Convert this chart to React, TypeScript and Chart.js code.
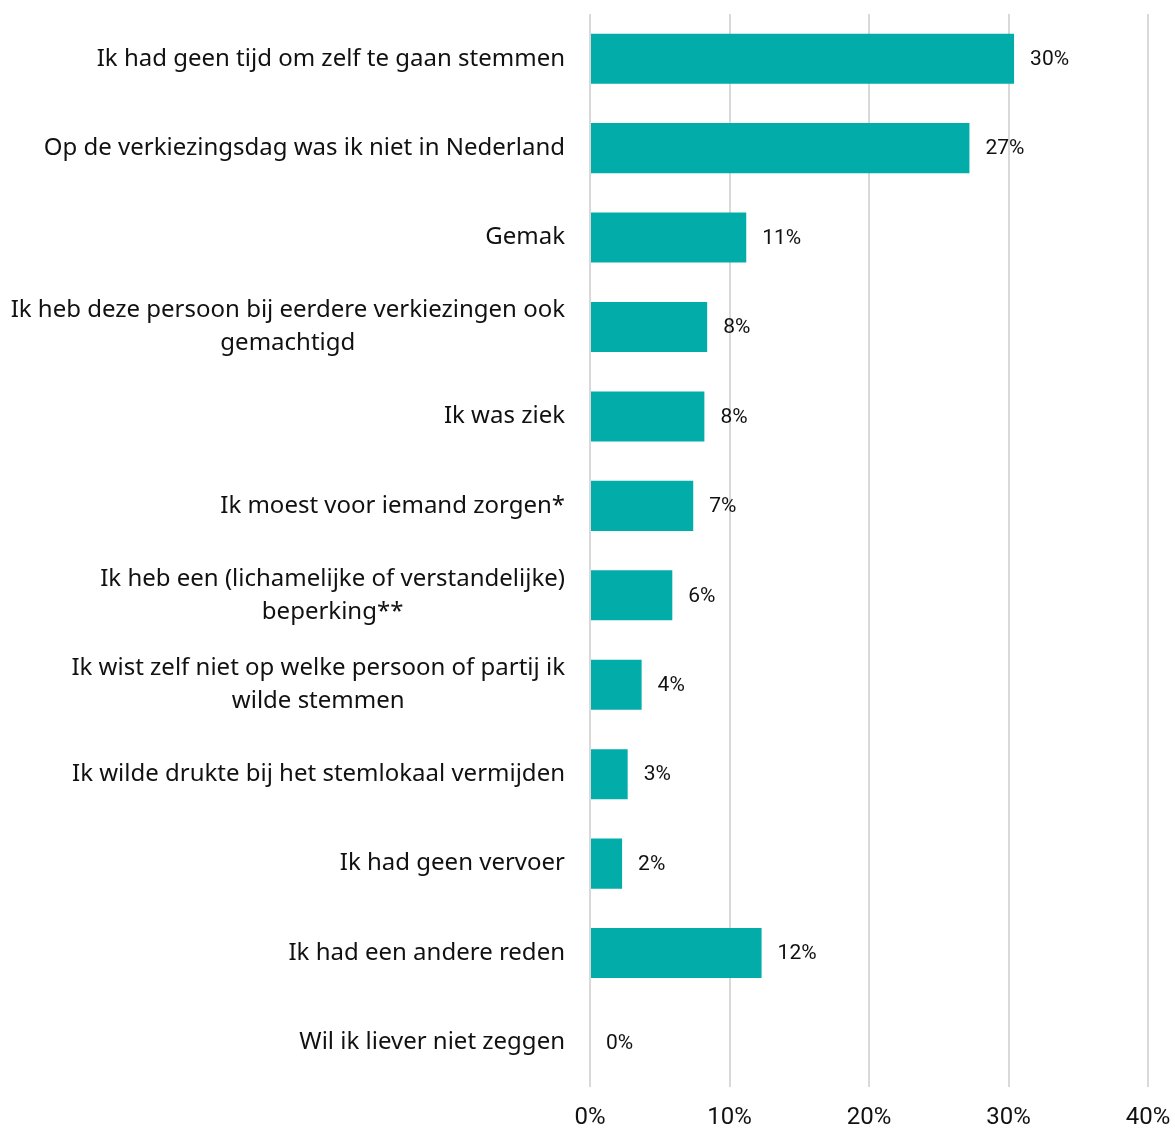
import React, { useEffect, useRef } from 'react'
import { Chart, registerables } from 'chart.js'

Chart.register(...registerables)

const categories: string[][] = [
    ['Ik had geen tijd om zelf te gaan stemmen'],
    ['Op de verkiezingsdag was ik niet in Nederland'],
    ['Gemak'],
    ['Ik heb deze persoon bij eerdere verkiezingen ook', 'gemachtigd'],
    ['Ik was ziek'],
    ['Ik moest voor iemand zorgen*'],
    ['Ik heb een (lichamelijke of verstandelijke)', 'beperking**'],
    ['Ik wist zelf niet op welke persoon of partij ik', 'wilde stemmen'],
    ['Ik wilde drukte bij het stemlokaal vermijden'],
    ['Ik had geen vervoer'],
    ['Ik had een andere reden'],
    ['Wil ik liever niet zeggen'],
]

const shares: number[] = [30.4, 27.2, 11.2, 8.4, 8.2, 7.4, 5.9, 3.7, 2.7, 2.3, 12.3, 0]
const shareLabels: string[] = ['30%', '27%', '11%', '8%', '8%', '7%', '6%', '4%', '3%', '2%', '12%', '0%']
const axisTicks: number[] = [0, 10, 20, 30, 40]

const barColor = '#02ada9'
const textColor = '#111111'
const labelFont = '"Noto Sans", sans-serif'
const numberFont = 'Roboto, sans-serif'

// draws the category names left of the plot: block right-aligned, lines centred in the block
const categoryLabels = {
    id: 'categoryLabels',
    afterDraw(chart: Chart) {
        const { ctx, scales, chartArea } = chart
        const y = scales.y
        const size = 24
        const lineGap = 33
        ctx.save()
        ctx.font = `${size}px ${labelFont}`
        ctx.fillStyle = textColor
        ctx.textAlign = 'center'
        ctx.textBaseline = 'middle'
        const right = chartArea.left - 25
        categories.forEach((lines, i) => {
            const widest = Math.max(...lines.map((l) => ctx.measureText(l).width))
            const cx = right - widest / 2
            const cy = y.getPixelForValue(i)
            const top = cy - ((lines.length - 1) * lineGap) / 2
            lines.forEach((l, j) => ctx.fillText(l, cx, top + j * lineGap))
        })
        ctx.restore()
    },
}

// value labels right of each bar end
const valueLabels = {
    id: 'valueLabels',
    afterDatasetsDraw(chart: Chart) {
        const { ctx } = chart
        const meta = chart.getDatasetMeta(0)
        ctx.save()
        ctx.font = `21px ${numberFont}`
        ctx.fillStyle = textColor
        ctx.textAlign = 'left'
        ctx.textBaseline = 'middle'
        meta.data.forEach((bar: any, i: number) => {
            ctx.fillText(shareLabels[i], bar.x + 16, bar.y + 1)
        })
        ctx.restore()
    },
}

export default function App() {
    const chartRef = useRef<HTMLCanvasElement>(null)
    const chartInstance = useRef<Chart>()

    useEffect(() => {
        if (!chartRef.current) return

        if (chartInstance.current) {
            chartInstance.current.destroy()
        }

        chartInstance.current = new Chart(chartRef.current, {
            type: 'bar',
            data: {
                labels: categories.map((c) => c.join(' ')),
                datasets: [{
                    data: shares,
                    backgroundColor: barColor,
                    borderWidth: 0,
                    barPercentage: 0.56,
                    categoryPercentage: 1,
                }]
            },
            options: {
                indexAxis: 'y',
                animation: false,
                responsive: false,
                layout: {
                    padding: { left: 590, right: 27, top: 14, bottom: -20 }
                },
                plugins: {
                    legend: { display: false },
                    tooltip: { enabled: false },
                },
                scales: {
                    x: {
                        min: axisTicks[0],
                        max: axisTicks[axisTicks.length - 1],
                        afterBuildTicks: (scale) => {
                            scale.ticks = axisTicks.map((v) => ({ value: v }))
                        },
                        // let the outer tick labels run into the layout padding
                        afterFit: (scale) => {
                            scale.paddingLeft = 0
                            scale.paddingRight = 0
                        },
                        grid: {
                            color: '#d9d9d9',
                            lineWidth: 2,
                            drawTicks: false,
                        },
                        border: { display: false },
                        ticks: {
                            padding: 16,
                            color: textColor,
                            font: { family: numberFont, size: 24 },
                            callback: (value) => `${value}%`,
                        },
                    },
                    y: {
                        display: false,
                    },
                },
            },
            plugins: [categoryLabels, valueLabels],
        })

        return () => {
            if (chartInstance.current) {
                chartInstance.current.destroy()
            }
        }
    }, [])

    return (
        <div style={{ position: 'fixed', left: 0, top: 0, width: 1175, height: 1128, background: '#fff', overflow: 'hidden' }}>
            <canvas ref={chartRef} width={1175} height={1128} style={{ display: 'block' }} />
        </div>
    )
}
